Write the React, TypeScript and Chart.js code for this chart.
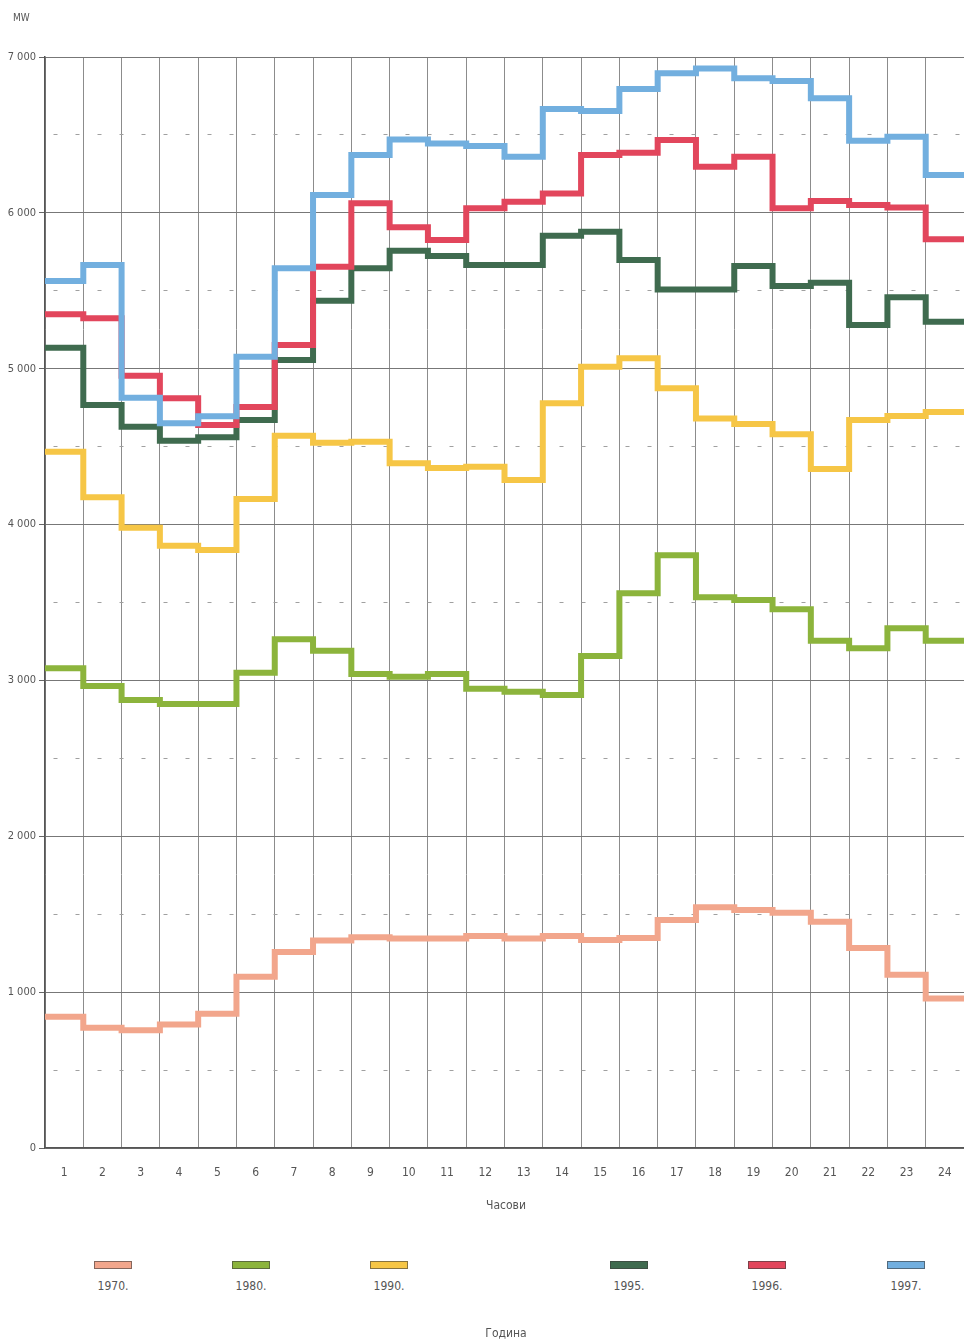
import React, { useEffect, useRef } from "react";
import { Chart, registerables } from "chart.js";

Chart.register(...registerables);

const hourLabels = ["1","2","3","4","5","6","7","8","9","10","11","12","13","14","15","16","17","18","19","20","21","22","23","24"];
const years = ["1970.", "1980.", "1990.", "1995.", "1996.", "1997."];
const colors = ["#F2A68C", "#8CB43C", "#F6C646", "#3F6B4F", "#E2465C", "#72AFDF"];

const v1970 = [842, 771, 756, 792, 861, 1098, 1258, 1331, 1353, 1344, 1344, 1360, 1344, 1360, 1335, 1347, 1463, 1544, 1527, 1510, 1452, 1284, 1111, 960];
const v1980 = [3078, 2964, 2874, 2849, 2849, 3050, 3264, 3191, 3041, 3024, 3041, 2947, 2928, 2906, 3157, 3559, 3803, 3533, 3516, 3456, 3255, 3206, 3334, 3255];
const v1990 = [4467, 4175, 3980, 3864, 3837, 4164, 4570, 4525, 4532, 4393, 4363, 4371, 4286, 4778, 5013, 5067, 4874, 4680, 4645, 4579, 4356, 4671, 4697, 4722];
const v1995 = [5135, 4767, 4628, 4538, 4560, 4671, 5056, 5436, 5644, 5757, 5723, 5665, 5665, 5853, 5879, 5697, 5509, 5509, 5659, 5531, 5552, 5280, 5458, 5302];
const v1996 = [5349, 5323, 4955, 4810, 4639, 4754, 5152, 5654, 6061, 5907, 5826, 6029, 6072, 6125, 6371, 6386, 6467, 6296, 6360, 6029, 6076, 6050, 6035, 5830];
const v1997 = [5563, 5665, 4814, 4650, 4695, 5077, 5644, 6114, 6371, 6471, 6445, 6429, 6360, 6666, 6653, 6795, 6895, 6927, 6863, 6846, 6735, 6463, 6489, 6243];

const series = [v1970, v1980, v1990, v1995, v1996, v1997];

const yMax = 7000;
const yMajor = 1000;
const yMinor = 500;

const FONT = "'Liberation Sans Narrow', 'DejaVu Sans Condensed', 'Liberation Sans', sans-serif";
const legendX = [113, 251, 389, 629, 767, 906];

function fmt(v: number): string {
  const s = String(v);
  return s.length > 3 ? s.slice(0, s.length - 3) + " " + s.slice(-3) : s;
}

export default function App() {
  const ref = useRef<HTMLCanvasElement | null>(null);

  useEffect(() => {
    if (!ref.current) return;
    const datasets = series.map((vals, k) => ({
      label: years[k],
      data: vals.map((v, i) => ({ x: i, y: v })).concat([{ x: vals.length, y: vals[vals.length - 1] }]),
      borderColor: colors[k],
      backgroundColor: colors[k],
      borderWidth: 6,
      pointRadius: 0,
      stepped: "before" as const,
      fill: false,
      borderJoinStyle: "miter" as const,
      borderCapStyle: "butt" as const,
      order: series.length - k,
    }));

    const chart = new Chart(ref.current, {
      type: "line",
      data: { datasets },
      options: {
        animation: false,
        responsive: false,
        layout: { padding: { top: 57, right: 0, left: 0, bottom: 0 } },
        plugins: { legend: { display: false }, tooltip: { enabled: false } },
        scales: {
          x: {
            type: "linear",
            min: 0,
            max: hourLabels.length,
            afterBuildTicks: (scale: any) => {
              const t: any[] = [];
              for (let i = 0; i <= hourLabels.length * 2; i++) t.push({ value: i / 2 });
              scale.ticks = t;
            },
            afterFit: (scale: any) => {
              scale.height = 72;
            },
            ticks: {
              autoSkip: false,
              maxRotation: 0,
              minRotation: 0,
              padding: 0,
              color: "#555",
              font: { family: FONT, size: 12 },
              callback: (value: any) => {
                const v = Number(value);
                if (v % 1 === 0.5) return hourLabels[Math.floor(v)];
                return "";
              },
            },
            grid: {
              drawTicks: true,
              tickLength: 18,
              tickColor: "rgba(0,0,0,0)",
              color: (ctx: any) => (ctx.tick && ctx.tick.value % 1 === 0 ? "#8c8c8c" : "rgba(0,0,0,0)"),
              lineWidth: 1,
            },
            border: { display: true, color: "#555", width: 1.5 },
          },
          y: {
            type: "linear",
            min: 0,
            max: yMax,
            afterFit: (scale: any) => {
              scale.width = 45;
            },
            ticks: {
              stepSize: yMinor,
              padding: 3,
              color: "#555",
              font: { family: FONT, size: 11 },
              callback: (value: any) => {
                const v = Number(value);
                return v % yMajor === 0 ? fmt(v) : "";
              },
            },
            grid: {
              drawTicks: true,
              tickLength: 6,
              color: (ctx: any) => (ctx.tick && ctx.tick.value % yMajor !== 0 ? "#a0a0a0" : "#777"),
              tickColor: (ctx: any) => (ctx.tick && ctx.tick.value % yMajor !== 0 ? "rgba(0,0,0,0)" : "#666"),
              lineWidth: 1,
            },
            border: {
              display: true,
              color: "#555",
              width: 1.5,
              dash: (ctx: any) => (ctx.tick && ctx.tick.value % yMajor !== 0 ? [4, 18] : []),
              dashOffset: -8,
            } as any,
          },
        },
      },
    });
    return () => chart.destroy();
  }, []);

  const textStyle: React.CSSProperties = {
    position: "absolute",
    fontFamily: FONT,
    color: "#555",
    fontSize: 12,
    lineHeight: "14px",
    whiteSpace: "nowrap",
  };

  return (
    <div style={{ position: "absolute", left: 0, top: 0, width: 964, height: 1341, background: "#fff", overflow: "hidden" }}>
      <canvas ref={ref} width={964} height={1220} style={{ display: "block", position: "absolute", left: 0, top: 0 }} />
      <div style={{ ...textStyle, left: 13, top: 11, fontSize: 10 }}>MW</div>
      <div style={{ ...textStyle, left: 506, top: 1198, transform: "translateX(-50%)" }}>Часови</div>
      {years.map((y, k) => (
        <div key={y} style={{ position: "absolute", left: legendX[k] - 20, top: 1261, width: 40, textAlign: "center" }}>
          <div style={{ width: 38, height: 8, margin: "0 auto", background: colors[k], border: "1px solid rgba(60,60,60,0.6)", boxSizing: "border-box" }} />
          <div style={{ fontFamily: FONT, color: "#555", fontSize: 12, lineHeight: "14px", marginTop: 10 }}>{y}</div>
        </div>
      ))}
      <div style={{ ...textStyle, left: 506, top: 1326, transform: "translateX(-50%)" }}>Година</div>
    </div>
  );
}
